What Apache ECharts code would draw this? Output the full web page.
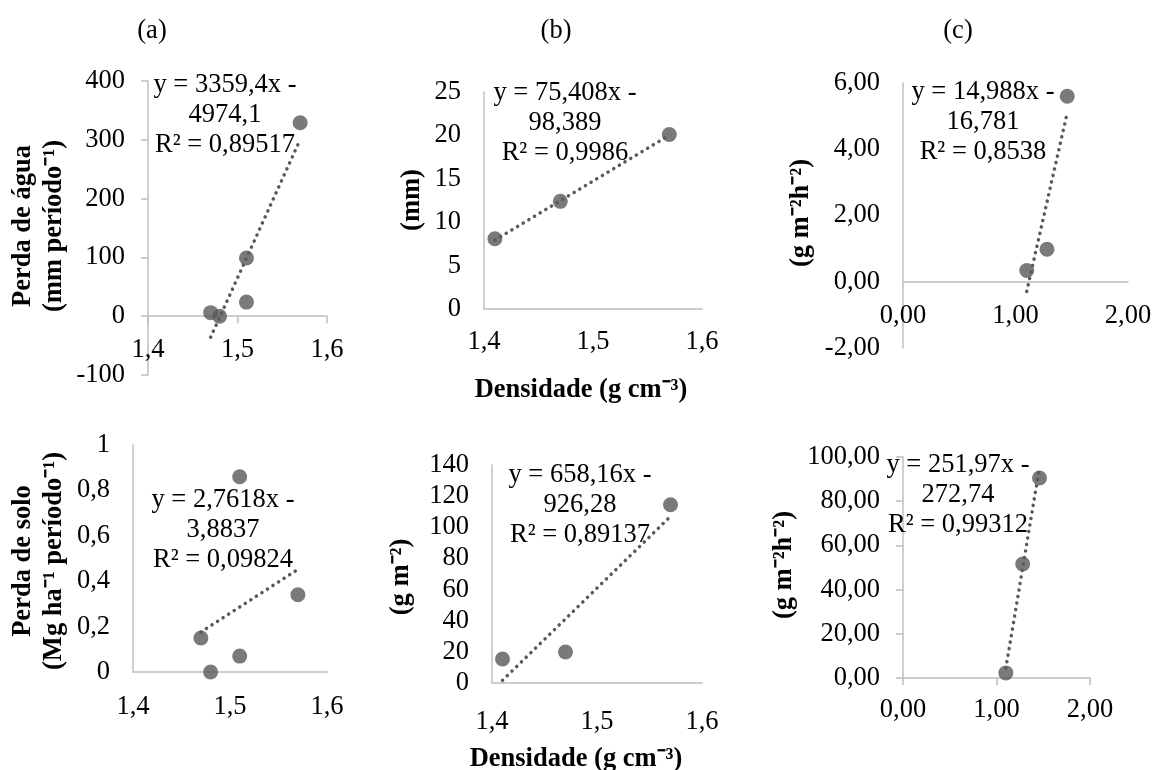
<!DOCTYPE html>
<html>
<head>
<meta charset="utf-8">
<script src="https://cdn.jsdelivr.net/npm/echarts@6/dist/echarts.min.js"></script>
<style>
html,body{margin:0;padding:0;background:#fff;}
#chart{width:1154px;height:770px;}
</style>
</head>
<body>
<div id="chart"></div>
<script>
// ---- Data ----
const densA = [1.47, 1.48, 1.51, 1.51, 1.57];
const aguaA = [6, 0, 99, 24, 329];
const soloA = [0.15, 0, 0.07, 0.86, 0.34];

const densB = [1.41, 1.47, 1.57];
const aguaB = [8.1, 12.4, 20.1];
const soloB = [15.4, 19.9, 114.5];

const densC = [1.10, 1.28, 1.46];
const aguaC = [0.34, 0.98, 5.6];
const soloC = [2.3, 51.6, 90.5];

// trendline end points (from the printed regression equations)
const trendA1 = [[1.47, -35.8], [1.57, 300.2]];
const trendB1 = [[1.41, 7.94], [1.57, 20.02]];
const trendC1 = [[1.10, -0.29], [1.46, 5.10]];
const trendA2 = [[1.47, 0.176], [1.57, 0.452]];
const trendB2 = [[1.41, 1.72], [1.57, 107.03]];
const trendC2 = [[1.10, 4.43], [1.46, 95.14]];

const eqLabels = [
  'y = 3359,4x -\n4974,1\nR² = 0,89517',
  'y = 75,408x -\n98,389\nR² = 0,9986',
  'y = 14,988x -\n16,781\nR² = 0,8538',
  'y = 2,7618x -\n3,8837\nR² = 0,09824',
  'y = 658,16x -\n926,28\nR² = 0,89137',
  'y = 251,97x -\n272,74\nR² = 0,99312'
];
const panelTitles = ['(a)', '(b)', '(c)'];
const yTitles = [
  'Perda de água\n(mm período⁻¹)', '(mm)', '(g m⁻²h⁻²)',
  'Perda de solo\n(Mg ha⁻¹ período⁻¹)', '(g m⁻²)', '(g m⁻²h⁻²)'
];
const xTitle = 'Densidade (g cm⁻³)';

// axis ranges / ticks
const xRanges = [[1.4, 1.6, 0.1], [1.4, 1.6, 0.1], [0, 2, 1], [1.4, 1.6, 0.1], [1.4, 1.6, 0.1], [0, 2, 1]];
const yRanges = [[-100, 400, 100], [0, 25, 5], [-2, 6, 2], [0, 1, 0.2], [0, 140, 20], [0, 100, 20]];

// ---- Layout ----
const FONT = '"Liberation Serif", "Times New Roman", serif';
const FS = 26.5;
const grids = [
  {left: 148, top: 81, width: 179, height: 294},
  {left: 484, top: 92, width: 218, height: 217},
  {left: 903, top: 83, width: 225, height: 265},
  {left: 133, top: 445, width: 194, height: 227},
  {left: 492, top: 465, width: 210, height: 218},
  {left: 903, top: 457, width: 187, height: 221}
];
const xMargins = [20.5, 19.5, 21, 21.5, 25.5, 19];
const showTicks = [true, false, false, false, false, true];

const fmtX = [
  v => v.toFixed(1).replace('.', ','),
  v => v.toFixed(1).replace('.', ','),
  v => v.toFixed(2).replace('.', ','),
  v => v.toFixed(1).replace('.', ','),
  v => v.toFixed(1).replace('.', ','),
  v => v.toFixed(2).replace('.', ',')
];
const fmtY = [
  v => String(Math.round(v)),
  v => String(Math.round(v)),
  v => v.toFixed(2).replace('.', ','),
  v => String(+v.toFixed(1)).replace('.', ','),
  v => String(Math.round(v)),
  v => v.toFixed(2).replace('.', ',')
];

const lineStyle = {color: '#bfbfbf', width: 1.5};
const xAxes = [], yAxes = [], series = [];
const pointSets = [
  [densA, aguaA], [densB, aguaB], [densC, aguaC],
  [densA, soloA], [densB, soloB], [densC, soloC]
];
const trends = [trendA1, trendB1, trendC1, trendA2, trendB2, trendC2];

for (let i = 0; i < 6; i++) {
  grids[i].outerBoundsMode = 'none';
  grids[i].containLabel = false;
  const yMin = yRanges[i][0], yMax = yRanges[i][1];
  // x axis crosses the value axis at zero: shift it up from the grid bottom
  const zeroOffset = -grids[i].height * (0 - yMin) / (yMax - yMin);
  xAxes.push({
    type: 'value', gridIndex: i, position: 'bottom', offset: zeroOffset,
    min: xRanges[i][0], max: xRanges[i][1], interval: xRanges[i][2],
    axisLine: {show: true, onZero: false, lineStyle: lineStyle},
    axisTick: {show: showTicks[i], length: 7, lineStyle: lineStyle},
    splitLine: {show: false},
    axisLabel: {margin: xMargins[i], color: '#000', fontFamily: FONT, fontSize: FS, formatter: fmtX[i]}
  });
  yAxes.push({
    type: 'value', gridIndex: i,
    min: yMin, max: yMax, interval: yRanges[i][2],
    axisLine: {show: true, onZero: false, lineStyle: lineStyle},
    axisTick: {show: showTicks[i], length: 7, lineStyle: lineStyle},
    splitLine: {show: false},
    axisLabel: {margin: 23, color: '#000', fontFamily: FONT, fontSize: FS, formatter: fmtY[i]}
  });
  const xs = pointSets[i][0], ys = pointSets[i][1];
  series.push({
    type: 'scatter', xAxisIndex: i, yAxisIndex: i,
    data: xs.map((x, k) => [x, ys[k]]),
    symbolSize: 15, itemStyle: {color: '#595959'}, z: 2
  });
  series.push({
    type: 'line', xAxisIndex: i, yAxisIndex: i,
    data: trends[i], symbol: 'none', silent: true, z: 3,
    lineStyle: {color: '#595959', width: 3.5, type: [0.1, 6.5], cap: 'round'}
  });
}

// ---- Text elements ----
const LH = 30;
const eqPos = [[225, 85], [565, 93], [983, 92], [223, 500], [580, 475], [958, 465]]; // centre of first line
const titlePos = [[152, 31], [556, 31], [958, 31]];
const yTitlePos = [[39, 226], [412, 200], [801, 213], [39, 561], [401, 577], [784, 565]];
const xTitlePos = [[581, 390], [576, 759]];

const graphics = [];
eqLabels.forEach((t, i) => graphics.push({
  type: 'text', x: eqPos[i][0], y: eqPos[i][1] - LH / 2, z: 10,
  style: {text: t, font: FS + 'px ' + FONT, fill: '#000', align: 'center', verticalAlign: 'top', lineHeight: LH}
}));
panelTitles.forEach((t, i) => graphics.push({
  type: 'text', x: titlePos[i][0], y: titlePos[i][1],
  style: {text: t, font: FS + 'px ' + FONT, fill: '#000', align: 'center', verticalAlign: 'middle'}
}));
yTitles.forEach((t, i) => graphics.push({
  type: 'text', x: yTitlePos[i][0], y: yTitlePos[i][1], rotation: Math.PI / 2,
  style: {text: t, font: 'bold ' + FS + 'px ' + FONT, fill: '#000', align: 'center', verticalAlign: 'middle', lineHeight: 31}
}));
xTitlePos.forEach(p => graphics.push({
  type: 'text', x: p[0], y: p[1],
  style: {text: xTitle, font: 'bold ' + FS + 'px ' + FONT, fill: '#000', align: 'center', verticalAlign: 'middle'}
}));

const chart = echarts.init(document.getElementById('chart'), null, {renderer: 'canvas'});
chart.setOption({
  backgroundColor: '#ffffff',
  animation: false,
  grid: grids,
  xAxis: xAxes,
  yAxis: yAxes,
  series: series,
  graphic: graphics
});
</script>
</body>
</html>
